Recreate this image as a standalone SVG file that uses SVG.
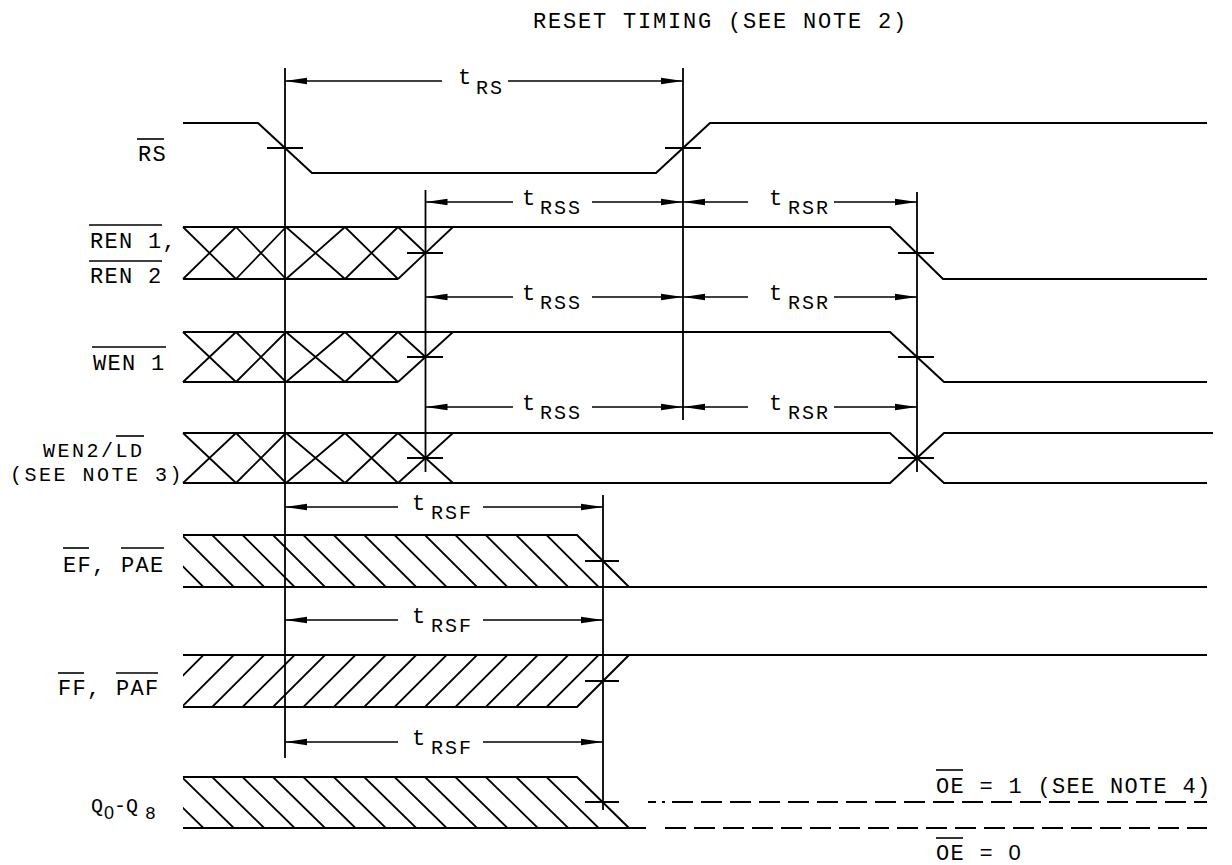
<svg xmlns="http://www.w3.org/2000/svg" width="1232" height="865" viewBox="0 0 1232 865">
<style>
.wave{fill:none;stroke:#000;stroke-width:2;stroke-linejoin:miter}
.hatch{fill:none;stroke:#000;stroke-width:1.8}
.tick{stroke:#000;stroke-width:1.8}
.vline{stroke:#000;stroke-width:1.8}
.dim{stroke:#000;stroke-width:1.6;fill:none}
.dash{stroke:#000;stroke-width:1.8;stroke-dasharray:21 8;fill:none}
.ob{stroke:#000;stroke-width:1.6}
text{font-family:"Liberation Mono","DejaVu Sans Mono",monospace;fill:#000}
.lbl{font-size:22px;letter-spacing:1.3px}
.lbs{font-size:20px;letter-spacing:2.5px}
.ttl{font-size:22px;letter-spacing:1.8px}
.t{font-size:22px}
.sub{font-size:20px;letter-spacing:2px}
.q{font-size:20px}
.qs{font-size:18px}
.zero{font-family:"Liberation Sans",Arial,sans-serif}
</style>
<defs>
<marker id="ah" viewBox="-23 -4 24 8" refX="0" refY="0" markerWidth="24" markerHeight="8" markerUnits="userSpaceOnUse" orient="auto">
<path d="M0,0 L-22,-3.3 L-22,3.3 Z" fill="#000"/>
</marker>
<clipPath id="cEF"><polygon points="183,535 577,535 629,587 183,587"/></clipPath>
<clipPath id="cFF"><polygon points="183,655 629,655 577,707 183,707"/></clipPath>
<clipPath id="cQ"><polygon points="183,777 577,777 629,828 183,828"/></clipPath>
</defs>
<rect width="1232" height="865" fill="#fff"/>

<text id="title" class="ttl" x="533" y="28">RESET TIMING (SEE NOTE 2)</text>

<g id="sig-RS">
<text class="lbl" x="138" y="161">RS</text>
<line class="ob" x1="137" y1="139" x2="164" y2="139"/>
<path class="wave" d="M183,123 L258,123 L312,173 L656,173 L710,123 L1207,123"/>
<line class="tick" x1="267" y1="148" x2="303" y2="148"/>
<line class="tick" x1="665" y1="148" x2="701" y2="148"/>
</g>

<g id="sig-REN">
<text class="lbl" x="90" y="248">REN 1,</text>
<text class="lbl" x="90" y="283">REN 2</text>
<line class="ob" x1="89" y1="225" x2="162" y2="225"/>
<line class="ob" x1="89" y1="261" x2="162" y2="261"/>
<path class="hatch" d="M183,227 L236,279 M236,227 L286,279 M286,227 L345,279 M345,227 L398,279 M183,279 L236,227 M236,279 L286,227 M286,279 L345,227 M345,279 L398,227 M398,227 L425.5,253 M398,279 L453,227"/>
<path class="wave" d="M183,227 L890,227 L943,279 L1207,279"/>
<path class="wave" d="M183,279 L398,279"/>
<line class="tick" x1="407" y1="253" x2="443" y2="253"/>
<line class="tick" x1="898" y1="253" x2="934" y2="253"/>
</g>

<g id="sig-WEN1">
<text class="lbl" x="93" y="370">WEN 1</text>
<line class="ob" x1="92" y1="347" x2="166" y2="347"/>
<path class="hatch" d="M183,332 L236,382 M236,332 L286,382 M286,332 L345,382 M345,332 L398,382 M183,382 L236,332 M236,382 L286,332 M286,382 L345,332 M345,382 L398,332 M398,332 L425.5,357 M398,382 L453,332"/>
<path class="wave" d="M183,332 L890,332 L944,382 L1207,382"/>
<path class="wave" d="M183,382 L398,382"/>
<line class="tick" x1="407" y1="357" x2="443" y2="357"/>
<line class="tick" x1="898" y1="357" x2="934" y2="357"/>
</g>

<g id="sig-WEN2">
<text class="lbs" x="43" y="457">WEN2/LD</text>
<text class="lbs" x="10" y="481">(SEE NOTE 3)</text>
<line class="ob" x1="116" y1="436" x2="144" y2="436"/>
<path class="hatch" d="M183,433 L236,483 M236,433 L286,483 M286,433 L345,483 M345,433 L398,483 M183,483 L236,433 M236,483 L286,433 M286,483 L345,433 M345,483 L398,433 M398,433 L453,483 M398,483 L453,433"/>
<path class="wave" d="M183,433 L890,433 L944,483 L1207,483"/>
<path class="wave" d="M183,483 L890,483 L944,433 L1213,433"/>
<line class="tick" x1="407" y1="458" x2="443" y2="458"/>
<line class="tick" x1="898" y1="458" x2="934" y2="458"/>
</g>

<g id="sig-EF">
<text class="lbl" x="63" y="572">EF, PAE</text>
<line class="ob" x1="63" y1="548" x2="89" y2="548"/>
<line class="ob" x1="121" y1="548" x2="164" y2="548"/>
<path class="hatch" clip-path="url(#cEF)" d="M151.4,535 L203.4,587 M181.8,535 L233.8,587 M212.2,535 L264.2,587 M242.6,535 L294.6,587 M273,535 L325,587 M303.4,535 L355.4,587 M333.8,535 L385.8,587 M364.2,535 L416.2,587 M394.6,535 L446.6,587 M425,535 L477,587 M455.4,535 L507.4,587 M485.8,535 L537.8,587 M516.2,535 L568.2,587 M546.6,535 L598.6,587"/>
<path class="wave" d="M183,535 L577,535 L629,587"/>
<path class="wave" d="M183,587 L1207,587"/>
<line class="tick" x1="585" y1="561" x2="619" y2="561"/>
</g>

<g id="sig-FF">
<text class="lbl" x="58" y="695">FF, PAF</text>
<line class="ob" x1="58" y1="673" x2="84" y2="673"/>
<line class="ob" x1="116" y1="673" x2="158" y2="673"/>
<path class="hatch" clip-path="url(#cFF)" d="M151.4,707 L203.4,655 M181.8,707 L233.8,655 M212.2,707 L264.2,655 M242.6,707 L294.6,655 M273,707 L325,655 M303.4,707 L355.4,655 M333.8,707 L385.8,655 M364.2,707 L416.2,655 M394.6,707 L446.6,655 M425,707 L477,655 M455.4,707 L507.4,655 M485.8,707 L537.8,655 M516.2,707 L568.2,655 M546.6,707 L598.6,655"/>
<path class="wave" d="M183,655 L1207,655"/>
<path class="wave" d="M183,707 L577,707 L629,655"/>
<line class="tick" x1="585" y1="681" x2="619" y2="681"/>
</g>

<g id="sig-Q">
<text class="q" x="91" y="812">Q</text>
<text class="qs zero" x="104" y="819">0</text>
<text class="q" x="114" y="812">-</text>
<text class="q" x="126" y="812">Q</text>
<text class="qs" x="145" y="819">8</text>
<path class="hatch" clip-path="url(#cQ)" d="M151.4,777 L203.4,828 M181.8,777 L233.8,828 M212.2,777 L264.2,828 M242.6,777 L294.6,828 M273,777 L325,828 M303.4,777 L355.4,828 M333.8,777 L385.8,828 M364.2,777 L416.2,828 M394.6,777 L446.6,828 M425,777 L477,828 M455.4,777 L507.4,828 M485.8,777 L537.8,828 M516.2,777 L568.2,828 M546.6,777 L598.6,828"/>
<path class="wave" d="M183,777 L577,777 L629,828"/>
<path class="wave" d="M183,828 L646,828"/>
<line class="tick" x1="585" y1="802" x2="619" y2="802"/>
<path class="wave" d="M648,802 L656,802 M662,802 L665,802"/>
<line class="dash" x1="672" y1="802" x2="1207" y2="802"/>
<line class="dash" x1="665" y1="828" x2="1207" y2="828"/>
<text class="lbl" x="936" y="793">OE = 1 (SEE NOTE 4)</text>
<line class="ob" x1="936" y1="770" x2="963" y2="770"/>
<text class="lbl" x="936" y="860">OE = <tspan class="zero">0</tspan></text>
<line class="ob" x1="936" y1="838" x2="963" y2="838"/>
</g>

<g id="connectors">
<line class="vline" x1="285" y1="68" x2="285" y2="758"/>
<line class="vline" x1="683" y1="68" x2="683" y2="420"/>
<line class="vline" x1="425.5" y1="190" x2="425.5" y2="472"/>
<line class="vline" x1="917" y1="192" x2="917" y2="472"/>
<line class="vline" x1="603" y1="495" x2="603" y2="810"/>

<line class="dim" x1="442" y1="81" x2="285" y2="81" marker-end="url(#ah)"/>
<line class="dim" x1="508" y1="81" x2="683" y2="81" marker-end="url(#ah)"/>
<text class="t" x="458" y="84">t</text><text class="sub" x="476" y="94">RS</text>

<line class="dim" x1="513" y1="202" x2="425.5" y2="202" marker-end="url(#ah)"/>
<line class="dim" x1="592" y1="202" x2="683" y2="202" marker-end="url(#ah)"/>
<text class="t" x="522" y="205">t</text><text class="sub" x="540" y="214">RSS</text>
<line class="dim" x1="748" y1="202" x2="683" y2="202" marker-end="url(#ah)"/>
<line class="dim" x1="834" y1="202" x2="917" y2="202" marker-end="url(#ah)"/>
<text class="t" x="769" y="205">t</text><text class="sub" x="788" y="214">RSR</text>

<line class="dim" x1="513" y1="297" x2="425.5" y2="297" marker-end="url(#ah)"/>
<line class="dim" x1="592" y1="297" x2="683" y2="297" marker-end="url(#ah)"/>
<text class="t" x="522" y="300">t</text><text class="sub" x="540" y="309">RSS</text>
<line class="dim" x1="748" y1="297" x2="683" y2="297" marker-end="url(#ah)"/>
<line class="dim" x1="834" y1="297" x2="917" y2="297" marker-end="url(#ah)"/>
<text class="t" x="769" y="300">t</text><text class="sub" x="788" y="309">RSR</text>

<line class="dim" x1="513" y1="407" x2="425.5" y2="407" marker-end="url(#ah)"/>
<line class="dim" x1="592" y1="407" x2="683" y2="407" marker-end="url(#ah)"/>
<text class="t" x="522" y="410">t</text><text class="sub" x="540" y="419">RSS</text>
<line class="dim" x1="748" y1="407" x2="683" y2="407" marker-end="url(#ah)"/>
<line class="dim" x1="834" y1="407" x2="917" y2="407" marker-end="url(#ah)"/>
<text class="t" x="769" y="410">t</text><text class="sub" x="788" y="419">RSR</text>

<line class="dim" x1="398" y1="507" x2="285" y2="507" marker-end="url(#ah)"/>
<line class="dim" x1="483" y1="507" x2="603" y2="507" marker-end="url(#ah)"/>
<text class="t" x="412" y="510">t</text><text class="sub" x="431" y="519">RSF</text>

<line class="dim" x1="398" y1="620" x2="285" y2="620" marker-end="url(#ah)"/>
<line class="dim" x1="483" y1="620" x2="603" y2="620" marker-end="url(#ah)"/>
<text class="t" x="412" y="623">t</text><text class="sub" x="431" y="632">RSF</text>

<line class="dim" x1="398" y1="742" x2="285" y2="742" marker-end="url(#ah)"/>
<line class="dim" x1="483" y1="742" x2="603" y2="742" marker-end="url(#ah)"/>
<text class="t" x="412" y="745">t</text><text class="sub" x="431" y="754">RSF</text>
</g>
</svg>
